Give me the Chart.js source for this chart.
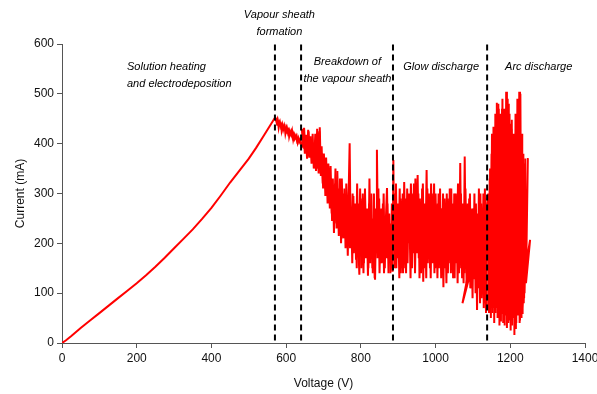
<!DOCTYPE html>
<html>
<head>
<meta charset="utf-8">
<script src="https://cdn.jsdelivr.net/npm/chart.js@4.4.1/dist/chart.umd.min.js"></script>
<style>
  html, body { margin: 0; padding: 0; background: #fff; }
  #wrap { width: 597px; height: 394px; }
</style>
</head>
<body>
<div id="wrap"><canvas id="ivChart"></canvas></div>
<script>
// voltage (V), current (mA), phase by phase
const heating = [[0,0],[10,5],[25,14],[50,30],[75,45],[100,60],[125,75],[150,90],[175,105],[200,120],
  [225,136],[250,153],[275,171],[300,190],[325,209],[350,228],[375,249],[400,271],[425,296],[450,322],
  [475,346],[500,370],[520,392],[540,416],[555,434],[565,446],[570,452]];

const sheath = [[574,444],[576,438],[578,446],[580,432],[582,440],[584,436],[586,442],[588,426],[591,436],
  [593,430],[596,434],[598,420],[601,431],[603,424],[606,428],[608,414],[611,424],[614,418],[616,425],
  [619,408],[622,418],[625,412],[628,416],[631,402],[634,410],[637,404],[640,400]];

const sheathB = [[572,452],[575,446],[577,450],[580,440],[583,445],[586,434],[589,440],[592,428],[595,437],
  [599,426],[602,432],[605,421],[608,427],[611,419],[614,425],[617,413],[620,420],[623,410],[626,416],
  [629,406],[632,412],[635,403],[638,408],[641,398]];

const breakdown = [[644,395],[647,425],[650,380],[653,418],[656,370],[659,428],[662,372],[665,410],[668,360],
  [671,420],[674,350],[677,400],[680,345],[683,430],[686,360],[689,425],[692,340],[695,395],[698,320],
  [701,380],[704,330],[707,372],[710,300],[713,360],[716,290],[719,355],[722,260],[725,330],[728,221],
  [731,320],[734,270],[737,345],[740,250],[743,310],[746,230],[749,330],[752,240],[755,300],[758,210],
  [761,320],[764,230],[767,290],[770,401],[772,260],[775,200],[778,300],[781,180],[784,280],[787,167],
  [790,320],[793,200],[796,137],[799,290],[802,190],[805,300],[808,160],[811,310],[814,200],[817,270],
  [820,150],[823,330],[826,180],[829,250],[832,140],[835,300],[838,127],[841,260],[843,388],[846,200],
  [849,290],[852,160],[855,270],[858,180],[861,300],[864,150],[867,250],[870,311],[873,170],[876,260],
  [879,140],[882,230],[885,143]];

const breakdownB = [[642,430],[645,400],[648,432],[651,392],[654,415],[657,385],[660,425],[663,378],[666,415],
  [669,370],[672,402],[675,362],[678,420],[681,350],[684,395],[687,340],[690,433],[693,335],[696,380],
  [699,310],[702,365],[705,295],[708,350],[711,280],[714,340],[717,270],[720,330],[723,245],[726,310],
  [729,240],[732,350],[735,230],[738,300],[741,215],[744,330],[747,200],[750,290],[753,210],[756,310],
  [759,190],[762,280],[765,175],[768,300],[771,190],[774,270],[777,160],[780,295],[783,185],[786,260],
  [789,150],[792,280],[795,170],[798,310],[801,150],[804,260],[807,140],[810,290],[813,170],[816,250],
  [819,135],[822,280],[825,160],[828,300],[831,150],[834,240],[837,130],[840,270],[844,170],[847,310],
  [850,140],[853,240],[856,160],[859,280],[862,140],[865,230],[868,170],[871,280],[874,140],[877,240],
  [880,160],[883,280],[885,170]];

const glow = [[887,367],[889,200],[892,300],[895,150],[898,280],[901,180],[904,310],[907,140],[910,260],
  [913,140],[916,323],[919,190],[922,290],[925,160],[928,300],[931,210],[934,320],[937,150],[940,280],
  [943,180],[946,330],[949,200],[952,337],[955,170],[958,290],[961,140],[964,310],[967,123],[970,280],
  [973,190],[976,347],[979,160],[982,300],[985,150],[988,320],[991,180],[994,290],[997,140],[1000,300],
  [1003,170],[1006,280],[1009,150],[1012,310],[1015,130],[1018,270],[1021,112],[1024,290],[1027,160],
  [1030,300],[1033,140],[1036,260],[1039,180],[1042,310],[1045,150],[1048,280],[1051,130],[1054,300],
  [1057,170],[1060,320],[1063,140],[1066,361],[1069,160],[1072,280],[1075,120],[1078,374],[1081,150],
  [1084,260],[1087,130],[1090,290],[1093,110],[1096,250],[1099,90],[1102,270],[1100,160],[1072,80],
  [1085,130],[1105,130],[1108,280],[1111,66],[1114,240],[1117,110],[1120,300],[1123,90],[1126,260],
  [1129,70],[1132,310],[1135,60],[1138,280]];

const glowB = [[888,250],[891,150],[894,320],[897,170],[900,250],[903,130],[906,290],[909,190],[912,300],
  [915,150],[918,280],[921,140],[924,310],[927,200],[930,260],[933,130],[936,300],[939,190],[942,320],
  [945,140],[948,270],[951,180],[954,300],[957,130],[960,280],[963,200],[966,320],[969,150],[972,260],
  [975,130],[978,310],[981,190],[984,280],[987,130],[990,300],[993,160],[996,320],[999,150],[1002,260],
  [1005,130],[1008,300],[1011,190],[1014,270],[1017,140],[1020,300],[1023,150],[1026,250],[1029,120],
  [1032,290],[1035,160],[1038,310],[1041,140],[1044,260],[1047,130],[1050,300],[1053,160],[1056,270],
  [1059,120],[1062,290],[1065,150],[1068,300],[1071,130],[1074,260],[1077,140],[1080,310],[1083,120],
  [1086,280],[1089,150],[1092,300],[1095,110],[1098,270],[1101,130],[1104,300],[1107,100],[1110,260],
  [1113,120],[1116,310],[1119,80],[1122,280],[1125,110],[1128,300],[1131,80],[1134,260],[1137,70]];

const arc = [[1141,300],[1143,60],[1146,350],[1148,50],[1151,420],[1153,70],[1155,434],[1157,40],[1160,460],
  [1162,80],[1164,482],[1166,50],[1169,470],[1171,35],[1174,440],[1176,60],[1179,490],[1181,40],[1184,470],
  [1186,70],[1189,504],[1191,30],[1194,480],[1196,60],[1199,440],[1201,25],[1204,448],[1206,50],[1209,420],
  [1211,16],[1214,460],[1216,40],[1219,490],[1221,55],[1224,504],[1226,45],[1229,400],[1231,70],[1234,373],
  [1236,80],[1240,370],[1238,100],[1247,371],[1242,120],[1253,207],[1245,170],[1230,60]];

const arcB = [[1238,360],[1237,90],[1235,380],[1233,60],[1232,420],[1230,50],[1227,500],[1225,40],[1223,470],
  [1220,60],[1218,440],[1215,30],[1213,400],[1210,50],[1208,380],[1205,35],[1203,430],[1200,45],[1198,460],
  [1195,40],[1193,490],[1190,55],[1188,470],[1185,35],[1183,440],[1180,60],[1178,470],[1175,45],[1173,460],
  [1170,60],[1168,480],[1165,70],[1163,440],[1161,60],[1159,420],[1156,80],[1154,400],[1152,60],[1150,380],
  [1147,80],[1145,330],[1142,70]];

const boundaries = [570, 640, 886, 1138];

const phaseLabels = [
  { lines: ['Solution heating', 'and electrodeposition'], x: 174, y: 554, align: 'left' },
  { lines: ['Vapour sheath', 'formation'], x: 582, y: 658, align: 'center' },
  { lines: ['Breakdown of', 'the vapour sheath'], x: 764, y: 564, align: 'center' },
  { lines: ['Glow discharge'], x: 1015, y: 553, align: 'center' },
  { lines: ['Arc discharge'], x: 1276, y: 553, align: 'center' }
];

const toPts = arr => arr.map(p => ({ x: p[0], y: p[1] }));
const passes = [heating.concat(sheath, breakdown, glow, arc), sheathB, breakdownB, glowB, arcB];

const datasets = boundaries.map(v => ({
  data: [{ x: v, y: 5 }, { x: v, y: 600 }],
  borderColor: '#000',
  borderWidth: 2,
  borderDash: [6, 4],
  pointRadius: 0,
  order: 0
}));
passes.forEach(p => datasets.push({
  data: toPts(p),
  borderColor: '#ff0000',
  borderWidth: 2,
  pointRadius: 0,
  tension: 0,
  order: 1
}));

const phaseText = {
  id: 'phaseText',
  afterDraw(chart) {
    const ctx = chart.ctx;
    const xs = chart.scales.x, ys = chart.scales.y;
    ctx.save();
    ctx.fillStyle = '#000';
    ctx.font = 'italic 11px "Comic Sans MS", "Liberation Sans", Arial, sans-serif';
    ctx.textBaseline = 'middle';
    phaseLabels.forEach(l => {
      ctx.textAlign = l.align;
      const px = xs.getPixelForValue(l.x);
      const py = ys.getPixelForValue(l.y);
      l.lines.forEach((t, i) => ctx.fillText(t, px, py + i * 17));
    });
    ctx.restore();
  }
};

const tickFont = { family: 'Arial, "Liberation Sans"', size: 12 };

new Chart(document.getElementById('ivChart'), {
  type: 'line',
  data: { datasets },
  plugins: [phaseText],
  options: {
    responsive: true,
    maintainAspectRatio: false,
    animation: false,
    layout: { padding: { top: 44, right: 0, left: 0, bottom: 0 } },
    plugins: { legend: { display: false }, tooltip: { enabled: false } },
    scales: {
      x: {
        type: 'linear',
        min: 0, max: 1400,
        ticks: { stepSize: 200, color: '#111', font: tickFont, padding: 3, maxRotation: 0, callback: v => String(v) },
        grid: { drawOnChartArea: false, tickLength: 5, color: '#555' },
        border: { color: '#555', width: 1 },
        title: { display: true, text: 'Voltage (V)', color: '#111', font: tickFont, padding: { top: 0, bottom: 3 } },
        afterFit: s => { s.height = 51; s.paddingRight = 12; s.paddingLeft = 0; }
      },
      y: {
        min: 0, max: 600,
        ticks: { stepSize: 100, color: '#111', font: tickFont, padding: 3, callback: v => String(v) },
        grid: { drawOnChartArea: false, tickLength: 5, color: '#555' },
        border: { color: '#555', width: 1 },
        title: { display: true, text: 'Current (mA)', color: '#111', font: tickFont, padding: { top: 13, bottom: 0 } },
        afterFit: s => { s.width = 62; }
      }
    }
  }
});
</script>
</body>
</html>
